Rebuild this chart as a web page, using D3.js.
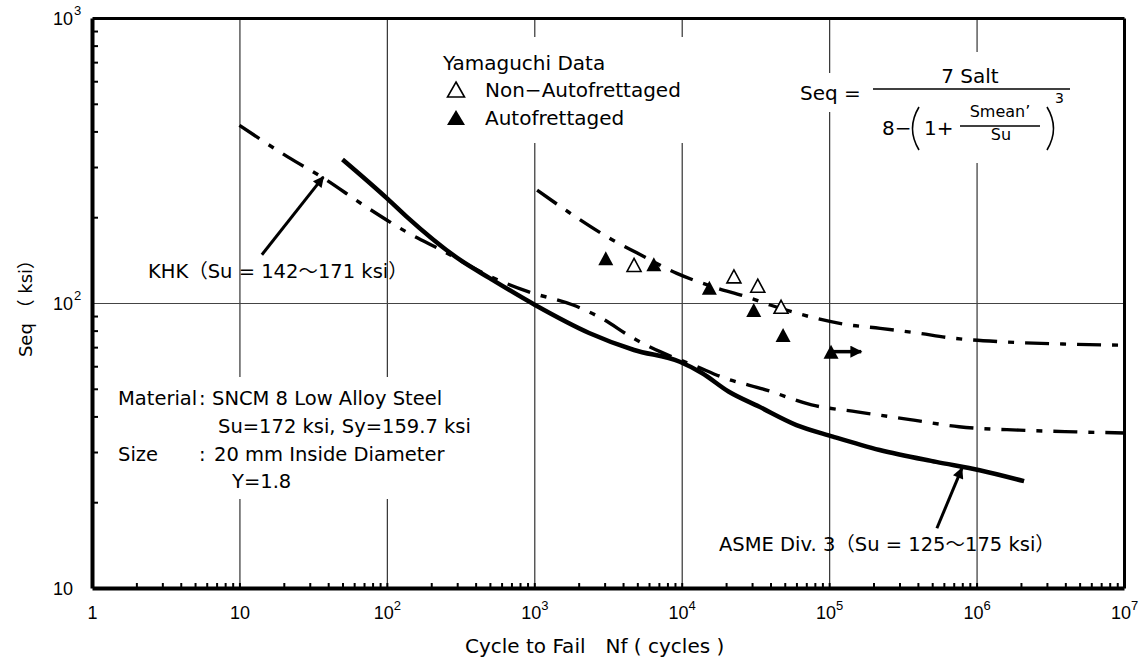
<!DOCTYPE html>
<html><head><meta charset="utf-8">
<script src="https://cdn.jsdelivr.net/npm/d3@7"></script>
<style>
html,body{margin:0;padding:0;background:#fff;}
svg{display:block;font-family:"DejaVu Sans","Noto Sans CJK JP",sans-serif;}
</style></head><body>
<svg id="chart" width="1148" height="662"></svg>
<script>
// ---------- data ----------
const asmeN = [50,102,136,314,501,1012,2353,4750,9700,13700,20900,33400,60000,106000,220000,532000,1050000,2100000];
const asmeS = [319,231,201,141.6,122,98.4,78.5,68.4,62.2,56.8,48.8,43.3,37.3,34.0,30.5,27.7,25.9,23.7];
const khkLowN = [10,21.4,36.9,69,140,236,501,908,1833,2870,4680,7130,12700,18500,37600,76000,155000,375000,760000,1950000,4720000,1e7];
const khkLowS = [420,325,275,221,176,153,124,109.6,98.4,88.3,75.3,67.5,59.8,55.1,49.5,43.9,41.5,38.8,36.8,35.8,35.3,35.0];
const khkUpN = [1045,1695,3100,4960,9270,16300,27700,39800,66600,128000,222000,395000,673000,1490000,3850000,1e7];
const khkUpS = [249,209,171,150,127,114,105,98.4,90.8,84.2,81.5,78.5,75.4,73.1,71.8,71.1];
const nonAutoN = [4750,22600,32800,47200];
const nonAutoS = [136,124,115,97];
const autoN = [3055,6470,15400,30800,48700,103000];
const autoS = [143.5,136.7,113,94.5,77.2,67.5];
const runoutN = [103000,165000];
const runoutS = [67.5,67.5];
const khkArrowN = [14.2,37.1], khkArrowS = [147.7,277];
const asmeArrowN = [538000,795000], asmeArrowS = [16.2,26.3];
const xTickVals = [1,10,100,1e3,1e4,1e5,1e6,1e7];
const xTickBase = ['1','10','10','10','10','10','10','10'];
const xTickExp  = ['','','2','3','4','5','6','7'];
const yTickVals = [10,100,1000];
const yTickBase = ['10','10','10'];
const yTickExp  = ['','2','3'];
const xGridVals = [10,100,1e3,1e4,1e5,1e6];
const yGridVals = [100];

// ---------- setup ----------
const svg = d3.select('#chart');
const L=92,R=1124,T=18,B=588;
const x = d3.scaleLog().domain([1,1e7]).range([L,R]);
const y = d3.scaleLog().domain([10,1000]).range([B,T]);

const defs = svg.append('defs');
defs.append('marker').attr('id','ah').attr('viewBox','0 0 10 10')
  .attr('refX',9).attr('refY',5).attr('markerUnits','userSpaceOnUse')
  .attr('markerWidth',15).attr('markerHeight',11).attr('orient','auto')
  .append('path').attr('d','M0,0 L10,5 L0,10 Z').attr('fill','#000');
defs.append('marker').attr('id','ah2').attr('viewBox','0 0 10 10')
  .attr('refX',9).attr('refY',5).attr('markerUnits','userSpaceOnUse')
  .attr('markerWidth',13).attr('markerHeight',12).attr('orient','auto')
  .append('path').attr('d','M0,0 L10,5 L0,10 Z').attr('fill','#000');

// gridlines
svg.append('g').attr('transform',`translate(0,${B})`)
  .call(d3.axisBottom(x).tickValues(xGridVals).tickSize(-(B-T)).tickFormat(''))
  .call(g=>g.select('.domain').remove())
  .selectAll('line').attr('stroke','#333').attr('stroke-width',1.2);
svg.append('g').attr('transform',`translate(${L},0)`)
  .call(d3.axisLeft(y).tickValues(yGridVals).tickSize(-(R-L)).tickFormat(''))
  .call(g=>g.select('.domain').remove())
  .selectAll('line').attr('stroke','#444').attr('stroke-width',1.2);

// white boxes behind text blocks
const boxes = [[435,37,257,106],[795,73,70,39],[868,52,210,111],[112,377,370,122]];
svg.append('g').selectAll('rect').data(boxes).join('rect')
  .attr('x',d=>d[0]).attr('y',d=>d[1]).attr('width',d=>d[2]).attr('height',d=>d[3]).attr('fill','#fff');

// minor ticks
const xMinor=[], yMinor=[];
for(let d=0; d<7; d++) for(let m=2;m<=9;m++) xMinor.push(m*Math.pow(10,d));
for(let d=1; d<3; d++) for(let m=2;m<=9;m++) yMinor.push(m*Math.pow(10,d));
svg.append('g').attr('transform',`translate(0,${B})`)
  .call(d3.axisBottom(x).tickValues(xMinor.concat(xTickVals)).tickSize(-5).tickFormat(''))
  .call(g=>g.select('.domain').remove())
  .selectAll('line').attr('stroke','#000').attr('stroke-width',2);
svg.append('g').attr('transform',`translate(${L},0)`)
  .call(d3.axisLeft(y).tickValues(yMinor).tickSize(-6).tickFormat(''))
  .call(g=>g.select('.domain').remove())
  .selectAll('line').attr('stroke','#000').attr('stroke-width',2);

// tick labels
const xl = svg.append('g').attr('transform',`translate(0,${B})`)
  .call(d3.axisBottom(x).tickValues(xTickVals).tickSize(0).tickPadding(18).tickFormat(''));
xl.select('.domain').remove();
xl.selectAll('.tick text').each(function(d,i){
  const t=d3.select(this).attr('font-family',null).attr('font-size',18).attr('fill','#000').attr('dy','0.71em');
  t.append('tspan').text(xTickBase[i]);
  if(xTickExp[i]) t.append('tspan').attr('font-size',13).attr('dy','-0.65em').text(xTickExp[i]);
});
const yl = svg.append('g').attr('transform',`translate(${L},0)`)
  .call(d3.axisLeft(y).tickValues(yTickVals).tickSize(0).tickFormat(''));
yl.select('.domain').remove();
yl.selectAll('.tick').each(function(d,i){
  const g=d3.select(this);
  g.select('text').attr('font-family',null).attr('font-size',18).attr('fill','#000')
    .attr('x',-19).attr('dy','0.36em').attr('text-anchor','end').text(yTickBase[i]);
  if(yTickExp[i]) g.append('text').attr('x',-18).attr('dy','-0.25em').attr('font-size',13)
    .attr('fill','#000').attr('text-anchor','start').text(yTickExp[i]);
});

// curves
const line = d3.line().x(d=>x(d[0])).y(d=>y(d[1])).curve(d3.curveMonotoneX);
const zip=(a,b)=>a.map((v,i)=>[v,b[i]]);
svg.append('path').attr('d',line(zip(khkLowN,khkLowS))).attr('fill','none').attr('stroke','#000')
  .attr('stroke-width',3.4).attr('stroke-dasharray','24,11,6,11');
svg.append('path').attr('d',line(zip(khkUpN,khkUpS))).attr('fill','none').attr('stroke','#000')
  .attr('stroke-width',3.4).attr('stroke-dasharray','24,11,6,11');
svg.append('path').attr('d',line(zip(asmeN,asmeS))).attr('fill','none').attr('stroke','#000')
  .attr('stroke-width',4.5);

// triangles (bbox-centred)
const tri=(w,h)=>`M0,${-h/2}L${w/2},${h/2}L${-w/2},${h/2}Z`;
svg.append('g').selectAll('path').data(zip(autoN,autoS)).join('path')
  .attr('transform',d=>`translate(${x(d[0])},${y(d[1])})`).attr('d',tri(15,14)).attr('fill','#000');
svg.append('g').selectAll('path').data(zip(nonAutoN,nonAutoS)).join('path')
  .attr('transform',d=>`translate(${x(d[0])},${y(d[1])})`).attr('d',tri(14,13)).attr('fill','#fff')
  .attr('stroke','#000').attr('stroke-width',1.6);

// arrows
const sl = d3.line().x(d=>x(d[0])).y(d=>y(d[1]));
svg.append('path').attr('d',sl(zip(runoutN,runoutS))).attr('stroke','#000').attr('stroke-width',3.5)
  .attr('marker-end','url(#ah2)');
svg.append('path').attr('d',sl(zip(khkArrowN,khkArrowS))).attr('stroke','#000').attr('stroke-width',3)
  .attr('marker-end','url(#ah)');
svg.append('path').attr('d',sl(zip(asmeArrowN,asmeArrowS))).attr('stroke','#000').attr('stroke-width',3)
  .attr('marker-end','url(#ah)');

// frame
svg.append('g').attr('transform',`translate(0,${B})`).call(d3.axisBottom(x).tickValues([]).tickSizeOuter(0))
  .select('.domain').attr('stroke','#000').attr('stroke-width',4);
svg.append('g').attr('transform',`translate(${L},0)`).call(d3.axisLeft(y).tickValues([]).tickSizeOuter(0))
  .select('.domain').attr('stroke','#000').attr('stroke-width',4);
svg.append('g').attr('transform',`translate(0,${T})`).call(d3.axisTop(x).tickValues([]).tickSizeOuter(0))
  .select('.domain').attr('stroke','#000').attr('stroke-width',3);
svg.append('g').attr('transform',`translate(${R},0)`).call(d3.axisRight(y).tickValues([]).tickSizeOuter(0))
  .select('.domain').attr('stroke','#000').attr('stroke-width',3);

// texts
const txt=(s,px,py,fs,anchor)=>svg.append('text').attr('x',px).attr('y',py).attr('font-size',fs)
  .attr('text-anchor',anchor||'start').attr('fill','#000').text(s);
txt('Yamaguchi Data',443,70,20);
svg.append('path').attr('transform','translate(456,89.5)').attr('d',tri(17,15)).attr('fill','#fff').attr('stroke','#000').attr('stroke-width',1.6);
txt('Non−Autofrettaged',485,97,20);
svg.append('path').attr('transform','translate(456,117.5)').attr('d',tri(18,15)).attr('fill','#000');
txt('Autofrettaged',485,125,20);

// formula
txt('Seq =',800,100,20);
txt('7 Salt',970,83,20,'middle');
svg.append('line').attr('x1',873).attr('x2',1070).attr('y1',89).attr('y2',89).attr('stroke','#000').attr('stroke-width',1.5);
txt('8−',882,135,20);
svg.append('path').attr('d','M919,107 Q906,128.5 919,150').attr('fill','none').attr('stroke','#000').attr('stroke-width',1.6);
txt('1+',924,135,20);
txt('Smean\u2019',1000,117,16,'middle');
svg.append('line').attr('x1',960).attr('x2',1040).attr('y1',126).attr('y2',126).attr('stroke','#000').attr('stroke-width',1.3);
txt('Su',1001,140,16,'middle');
svg.append('path').attr('d','M1047,107 Q1060,128.5 1047,150').attr('fill','none').attr('stroke','#000').attr('stroke-width',1.6);
txt('3',1055,103,14);

// annotations
txt('KHK（Su = 142～171 ksi）',148,278,19.5);
txt('ASME Div. 3（Su = 125～175 ksi）',719,551,19.5);
txt('Material',118,405,19.5);
txt(':',199,405,19.5);
txt('SNCM 8 Low Alloy Steel',212,405,19.5);
txt('Su=172 ksi, Sy=159.7 ksi',218,433,19.5);
txt('Size',118,461,19.5);
txt(':',199,461,19.5);
txt('20 mm Inside Diameter',214,461,19.5);
txt('Y=1.8',232,488,19.5);

// axis titles
txt('Cycle to Fail　Nf ( cycles )',465,653,20);
svg.append('text').attr('transform','translate(32,304) rotate(-90)').attr('text-anchor','middle')
  .attr('font-size',18).attr('fill','#000').text('Seq （ ksi）');
</script></body></html>
